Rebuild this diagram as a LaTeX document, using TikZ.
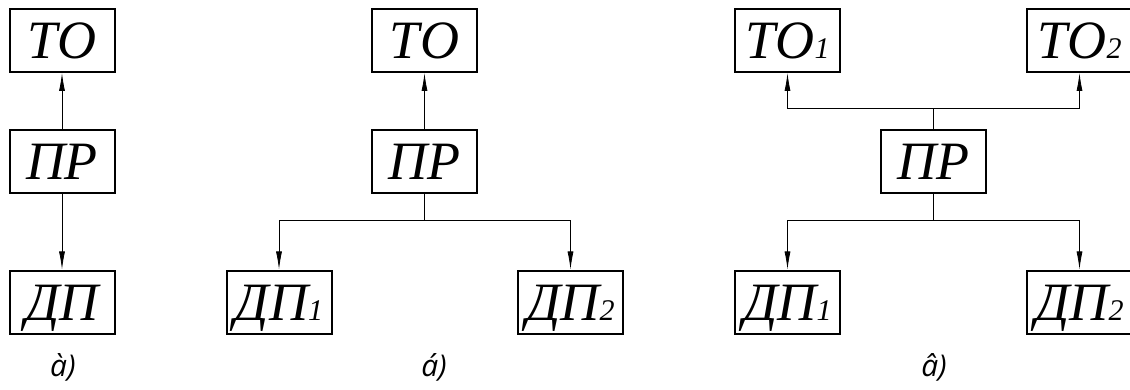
\documentclass[tikz,border=0pt]{standalone}
\usepackage{fontspec}
\newfontfamily\boxfont{Liberation Serif}
\newfontfamily\lblfont{Open Sans}
\usetikzlibrary{arrows.meta}
\newcommand{\bx}[1]{\boxfont\itshape\fontsize{54}{54}\selectfont #1}
\newcommand{\sbs}[1]{{\fontsize{30}{30}\selectfont #1}}
\newcommand{\lb}[1]{\lblfont\itshape\fontsize{30}{30}\selectfont #1}
\tikzset{
  blk/.style={draw, line width=2pt, minimum width=105pt, minimum height=63pt, inner sep=0pt,
    text height=36pt, text depth=0pt},
  conn/.style={line width=0.8pt},
  arr/.style={conn, -{Latex[length=18pt,width=6pt]}},
  lbl/.style={inner sep=0pt}
}
\begin{document}
\begin{tikzpicture}[x=1pt,y=-1pt]
\useasboundingbox (0,0) rectangle (1130,390);
% a)
\node[blk] (a-to) at (62,40.5) {\bx{ТО}};
\node[blk] (a-pr) at (62,162) {\bx{ПР}};
\node[blk] (a-dp) at (62,302) {\bx{ДП}};
\draw[arr] (a-pr) -- (a-to);
\draw[arr] (a-pr) -- (a-dp);
\node[lbl] (a-l) at (63,367) {\lb{à)}};
% b)
\node[blk] (b-to) at (424.5,40.5) {\bx{ТО}};
\node[blk] (b-pr) at (424.5,162) {\bx{ПР}};
\node[blk] (b-dp1) at (279,302) {\bx{ДП\sbs{1}}};
\node[blk] (b-dp2) at (570.5,302) {\bx{ДП\sbs{2}}};
\coordinate (b-j) at (424.5,220);
\draw[arr] (b-pr) -- (b-to);
\draw[conn] (b-pr) -- (b-j);
\draw[arr] (b-j) -| (b-dp1);
\draw[arr] (b-j) -| (b-dp2);
\node[lbl] (b-l) at (434,367) {\lb{á)}};
% c)
\node[blk] (c-to1) at (787.5,40.5) {\bx{ТО\sbs{1}}};
\node[blk] (c-to2) at (1079.5,40.5) {\bx{ТО\sbs{2}}};
\node[blk] (c-pr) at (933,162) {\bx{ПР}};
\node[blk] (c-dp1) at (787.5,302) {\bx{ДП\sbs{1}}};
\node[blk] (c-dp2) at (1079.5,302) {\bx{ДП\sbs{2}}};
\coordinate (c-ju) at (933,108);
\coordinate (c-jd) at (933,220);
\draw[conn] (c-pr) -- (c-ju);
\draw[arr] (c-ju) -| (c-to1);
\draw[arr] (c-ju) -| (c-to2);
\draw[conn] (c-pr) -- (c-jd);
\draw[arr] (c-jd) -| (c-dp1);
\draw[arr] (c-jd) -| (c-dp2);
\node[lbl] (c-l) at (934,367) {\lb{â)}};
\end{tikzpicture}
\end{document}
